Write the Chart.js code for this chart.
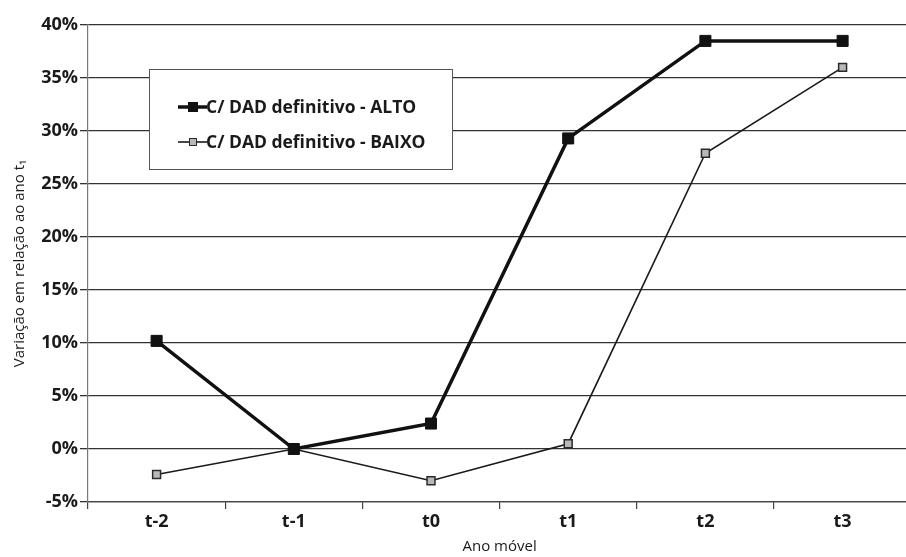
<!DOCTYPE html>
<html>
<head>
<meta charset="utf-8">
<script src="https://cdn.jsdelivr.net/npm/chart.js@4/dist/chart.umd.min.js"></script>
<style>
  html, body { margin: 0; padding: 0; background: #fff; overflow: hidden; }
  #wrap { width: 920px; height: 557px; }
</style>
</head>
<body>
<div id="wrap"><canvas id="c" width="920" height="557"></canvas></div>
<script>
// Moving-year categories and the two series (percent change vs. year t1)
const categories = ['t-2', 't-1', 't0', 't1', 't2', 't3'];
const altoValues = [10.2, 0, 2.4, 29.3, 38.5, 38.5];
const baixoValues = [-2.4, 0, -3.0, 0.5, 27.9, 36.0];
const seriesLabels = ['C/ DAD definitivo - ALTO', 'C/ DAD definitivo - BAIXO'];
const yTicks = [-5, 0, 5, 10, 15, 20, 25, 30, 35, 40];

const boldFont = '"Open Sans", "DejaVu Sans", sans-serif';
const plainFont = '"Open Sans", "DejaVu Sans", sans-serif';

// Boxed legend drawn inside the plot area
const boxLegend = {
  id: 'boxLegend',
  afterDatasetsDraw(chart) {
    const ctx = chart.ctx;
    const x0 = 149.5, y0 = 69.5, w = 303, h = 100;
    ctx.save();
    ctx.fillStyle = '#fff';
    ctx.fillRect(x0, y0, w, h);
    ctx.strokeStyle = '#555';
    ctx.lineWidth = 1;
    ctx.strokeRect(x0, y0, w, h);
    const rows = [107, 142];
    chart.data.datasets.forEach((ds, i) => {
      const y = rows[i];
      ctx.strokeStyle = ds.borderColor;
      ctx.lineWidth = ds.borderWidth;
      ctx.beginPath();
      ctx.moveTo(178, y);
      ctx.lineTo(207, y);
      ctx.stroke();
      const s = ds.legendMarker;
      ctx.fillStyle = ds.pointBackgroundColor;
      ctx.fillRect(193 - s / 2, y - s / 2, s, s);
      ctx.strokeStyle = ds.pointBorderColor;
      ctx.lineWidth = 1;
      ctx.strokeRect(193 - s / 2, y - s / 2, s, s);
      ctx.fillStyle = '#1a1a1a';
      ctx.font = 'bold 17.5px ' + boldFont;
      ctx.textBaseline = 'middle';
      ctx.textAlign = 'left';
      ctx.fillText(ds.label, 206, y + 1);
    });
    ctx.restore();
  }
};

new Chart(document.getElementById('c'), {
  type: 'line',
  data: {
    labels: categories,
    datasets: [
      {
        label: seriesLabels[0],
        data: altoValues,
        borderColor: '#111',
        borderWidth: 3.5,
        pointStyle: 'rect',
        pointRadius: 7.8,
        pointBackgroundColor: '#111',
        pointBorderColor: '#111',
        pointBorderWidth: 1,
        legendMarker: 9,
        tension: 0
      },
      {
        label: seriesLabels[1],
        data: baixoValues,
        borderColor: '#1a1a1a',
        borderWidth: 1.6,
        pointStyle: 'rect',
        pointRadius: 5.6,
        pointBackgroundColor: '#b8b8b8',
        pointBorderColor: '#2a2a2a',
        pointBorderWidth: 1.5,
        legendMarker: 7,
        tension: 0
      }
    ]
  },
  options: {
    responsive: false,
    animation: false,
    layout: { padding: { top: 25, right: 2, left: 0, bottom: 0 } },
    plugins: { legend: { display: false }, tooltip: { enabled: false } },
    scales: {
      x: {
        offset: true,
        afterFit(scale) { scale.height = 55; },
        border: { color: '#444', width: 1.2 },
        grid: { display: true, drawOnChartArea: false, offset: true, tickLength: 7, color: '#444', lineWidth: 1.2 },
        ticks: { color: '#1a1a1a', font: { family: boldFont, size: 18, weight: 'bold' }, padding: 2 },
        title: { display: true, text: 'Ano móvel', color: '#1a1a1a', font: { family: plainFont, size: 15 }, padding: { top: 0, bottom: 1 } }
      },
      y: {
        min: -5,
        max: 40,
        afterFit(scale) { scale.width = 88; },
        afterBuildTicks(scale) { scale.ticks = yTicks.map(v => ({ value: v })); },
        border: { color: '#777', width: 1.2 },
        grid: { color: '#333', lineWidth: 1.3, tickLength: 8 },
        ticks: {
          color: '#1a1a1a',
          font: { family: boldFont, size: 18, weight: 'bold' },
          padding: 2,
          callback: v => v + '%'
        },
        title: { display: true, text: 'Variação em relação ao ano t₁', color: '#1a1a1a', font: { family: plainFont, size: 15 }, padding: { top: 11, bottom: 0 } }
      }
    }
  },
  plugins: [boxLegend]
});
</script>
</body>
</html>
